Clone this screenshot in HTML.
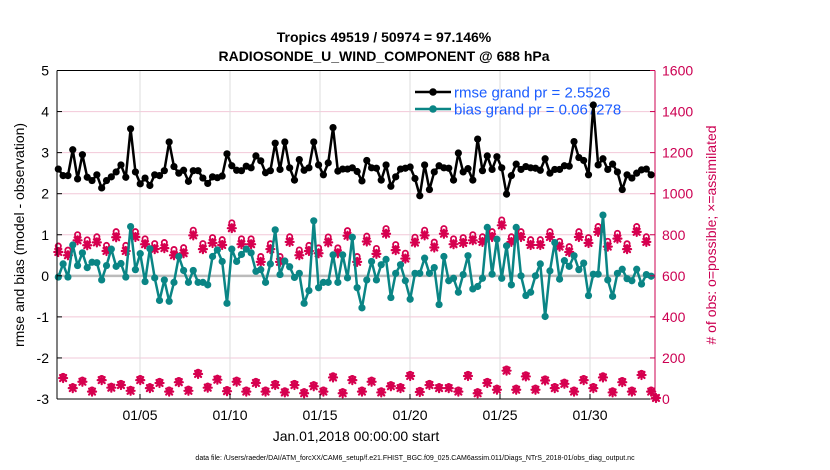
<!DOCTYPE html>
<html><head><meta charset="utf-8"><style>
html,body{margin:0;padding:0;background:#fff;}
svg{display:block;font-family:"Liberation Sans",sans-serif;}
</style></head><body>
<svg id="chart" width="830" height="470" viewBox="0 0 830 470">
<text x="384" y="42" text-anchor="middle" font-size="14" font-weight="bold">Tropics 49519 / 50974 = 97.146%</text>
<text x="384" y="61" text-anchor="middle" font-size="14" font-weight="bold">RADIOSONDE_U_WIND_COMPONENT @ 688 hPa</text>
<g id="grid"></g>
<g id="legend"></g>
<g id="marks"></g>
<g id="axes"></g>
<text transform="translate(24,235) rotate(-90)" text-anchor="middle" font-size="14">rmse and bias (model - observation)</text>
<text transform="translate(716,235) rotate(-90)" text-anchor="middle" font-size="14" fill="#cc0052"># of obs: o=possible; ×=assimilated</text>
<text x="356" y="441" text-anchor="middle" font-size="14">Jan.01,2018 00:00:00 start</text>
<text x="415" y="460" text-anchor="middle" font-size="7">data file: /Users/raeder/DAI/ATM_forcXX/CAM6_setup/f.e21.FHIST_BGC.f09_025.CAM6assim.011/Diags_NTrS_2018-01/obs_diag_output.nc</text>
</svg>
<script>
const rmse=[2.6,2.44,2.44,3.07,2.36,2.95,2.4,2.32,2.46,2.14,2.32,2.41,2.53,2.7,2.4,3.58,2.53,2.24,2.38,2.2,2.46,2.44,2.56,3.26,2.66,2.5,2.57,2.3,2.56,2.56,2.38,2.25,2.41,2.39,2.43,2.97,2.68,2.57,2.56,2.67,2.63,2.92,2.8,
2.51,2.56,3.23,2.59,3.26,2.63,2.33,2.83,2.57,2.63,3.26,2.7,2.46,2.75,3.61,2.55,2.6,2.6,2.63,2.54,2.31,2.81,2.63,2.62,2.33,2.7,2.18,2.41,2.6,2.62,2.65,2.37,1.95,2.7,2.1,2.53,2.68,2.63,2.62,2.33,2.99,
2.53,2.61,2.33,3.33,2.56,2.92,2.59,2.9,2.63,1.99,2.44,2.72,2.59,2.66,2.63,2.62,2.57,2.85,2.5,2.59,2.59,2.68,2.67,3.27,2.88,2.81,2.46,4.16,2.7,2.85,2.59,2.72,2.53,2.1,2.46,2.38,2.5,2.58,2.6,2.46];
const bias=[-0.03,0.29,-0.03,0.75,0.25,0.56,0.2,0.33,0.32,-0.1,0.25,0.65,0.23,0.3,-0.03,1.2,0.15,0.54,-0.14,0.66,-0.05,-0.6,-0.1,-0.62,-0.16,0.47,0.13,-0.16,0.13,-0.16,-0.16,-0.22,0.47,0.63,0.35,-0.67,0.65,0.35,0.52,0.65,0.56,0.11,0.15,
-0.16,0.29,1.12,0.03,0.36,0.22,-0.04,0.06,-0.67,-0.36,1.34,-0.29,-0.16,-0.16,0.51,-0.16,0.51,-0.05,0.94,-0.29,-0.78,-0.1,0.35,-0.1,0.27,0.4,-0.53,0.06,0.27,-0.12,-0.57,0.06,0.06,0.43,0.06,0.2,-0.7,0.47,-0.12,-0.06,-0.4,
0.03,0.49,-0.32,-0.26,-0.06,1.18,0.04,0.89,-0.06,0.73,-0.22,1.18,0,-0.48,-0.4,0,0.29,-0.99,0.12,0.81,-0.08,0.37,0.23,0.49,0.15,0.31,-0.48,0.04,0.04,1.48,-0.1,-0.5,0.06,0.16,-0.07,-0.12,0.16,-0.2,0.03,-0.01];
const assimilated=[716,102,700,53,773,84,749,36,763,92,721,55,788,68,721,40,789,92,754,53,730,78,735,36,700,82,710,40,797,122,730,55,760,94,750,38,832,84,754,36,754,78,668,
36,730,68,668,32,765,68,700,28,721,62,710,36,763,105,710,28,795,92,668,36,767,84,707,32,805,62,725,53,684,112,762,34,797,68,738,53,805,53,754,36,
760,112,773,28,765,78,789,45,846,138,765,45,789,110,750,45,750,90,789,53,742,74,716,36,789,92,760,53,814,105,742,32,781,82,730,36,814,117,765,36,5];
const possible=[745,110,725,60,800,92,775,44,790,100,748,62,815,76,748,47,815,100,780,60,757,86,762,44,728,90,737,48,822,130,757,63,786,101,776,46,858,92,780,44,780,86,694,
44,756,76,694,40,790,76,726,36,748,70,736,44,789,113,736,36,820,100,694,44,793,92,733,40,830,70,752,60,710,120,788,42,822,76,764,60,830,60,780,44,
786,120,800,36,790,86,815,53,872,146,790,53,815,118,776,53,776,98,815,61,768,82,742,44,815,100,786,61,840,113,768,40,807,90,756,44,840,125,790,44,8];
const xTickLabels=["01/05","01/10","01/15","01/20","01/25","01/30"];
const xTickDays=[5,10,15,20,25,30];
const yTicks=[-3,-2,-1,0,1,2,3,4,5];
const yRightTicks=[0,200,400,600,800,1000,1200,1400,1600];

const NS="http://www.w3.org/2000/svg";
const L=57,R=655,T=70.5,B=399;
const y=v=>B-(v+3)/8*(B-T);
const yc=c=>B-c/1600*(B-T);
const xi=i=>58.3+i*4.82;
const xd=d=>50+18*d;
function mk(tag,attrs,parent){const e=document.createElementNS(NS,tag);for(const k in attrs)e.setAttribute(k,attrs[k]);parent.appendChild(e);return e;}
const grid=document.getElementById('grid'),marks=document.getElementById('marks'),axes=document.getElementById('axes'),legend=document.getElementById('legend');

yTicks.forEach(t=>{
  const g=mk('line',{x1:L,x2:R,y1:y(t),y2:y(t),stroke:'#f2c8d8','stroke-width':1},grid);
  
  
});
xTickDays.forEach(d=>{
  const g=mk('line',{x1:xd(d),x2:xd(d),y1:T,y2:B,stroke:'#dcdcdc','stroke-width':1},grid);
  
  
});
const zl=mk('line',{x1:L,x2:R,y1:y(0),y2:y(0),stroke:'#bbbbbb','stroke-width':2.5},grid);



const lg=[['rmse grand pr = 2.5526','#000',92],['bias grand pr = 0.067278','#0a8585',109]];
lg.forEach(([txt,c,yy],k)=>{
  const ln=mk('line',{x1:415,x2:451,y1:yy,y2:yy,stroke:c,'stroke-width':2.5},legend);
  
  
  const dt=mk('circle',{cx:433,cy:yy,r:3.8,fill:c},legend);
  
  
  const tx=mk('text',{x:454,y:yy+5.5,'font-size':15,fill:'#1a5cff'},legend);
  tx.textContent=txt;
  
  
});

function asterisk(cx,cy,name){
  const g=mk('g',{stroke:'#d6004f','stroke-width':2.2,'stroke-linecap':'round'},marks);
  
  
  const r=4;
  mk('line',{x1:cx-r,x2:cx+r,y1:cy,y2:cy},g);
  mk('line',{x1:cx,x2:cx,y1:cy-r,y2:cy+r},g);
  mk('line',{x1:cx-3,x2:cx+3,y1:cy-3,y2:cy+3},g);
  mk('line',{x1:cx-3,x2:cx+3,y1:cy+3,y2:cy-3},g);
}
possible.forEach((c,i)=>{
  const o=mk('circle',{cx:xi(i),cy:yc(c),r:2.6,fill:'none',stroke:'#d6004f','stroke-width':1.8},marks);
  
  
});
assimilated.forEach((c,i)=>asterisk(xi(i),yc(c),'assimilated-obs-point'));

function series(arr,color,name){
  const p=mk('polyline',{points:arr.map((v,i)=>xi(i)+','+y(v)).join(' '),fill:'none',stroke:color,'stroke-width':2.5,'stroke-linejoin':'round'},marks);
  
  
  arr.forEach((v,i)=>{
    const c=mk('circle',{cx:xi(i),cy:y(v),r:3.6,fill:color},marks);
    
    
  });
}
series(bias,'#0a8585','bias');
series(rmse,'#000000','rmse');

const frame=[[L,T,L,B,'#000'],[L,B,R,B,'#000'],[L,T,R,T,'#000'],[R,T,R,B,'#cc0052']];
frame.forEach(([a,b,c,d,s])=>{
  const l=mk('line',{x1:a,y1:b,x2:c,y2:d,stroke:s,'stroke-width':1},axes);
  
  
});
yTicks.forEach(t=>{
  mk('line',{x1:L,x2:L+5,y1:y(t),y2:y(t),stroke:'#000'},axes);
  const tx=mk('text',{x:L-8,y:y(t)+5,'text-anchor':'end','font-size':14},axes);
  tx.textContent=t;
  
  
});
yRightTicks.forEach(t=>{
  mk('line',{x1:R-5,x2:R,y1:yc(t),y2:yc(t),stroke:'#cc0052'},axes);
  const tx=mk('text',{x:R+7,y:yc(t)+5,'font-size':14,fill:'#cc0052'},axes);
  tx.textContent=t;
  
  
});
xTickDays.forEach((d,k)=>{
  mk('line',{x1:xd(d),x2:xd(d),y1:B,y2:B-5,stroke:'#000'},axes);
  const tx=mk('text',{x:xd(d),y:420,'text-anchor':'middle','font-size':14},axes);
  tx.textContent=xTickLabels[k];
  
  
});
</script>
</body></html>
